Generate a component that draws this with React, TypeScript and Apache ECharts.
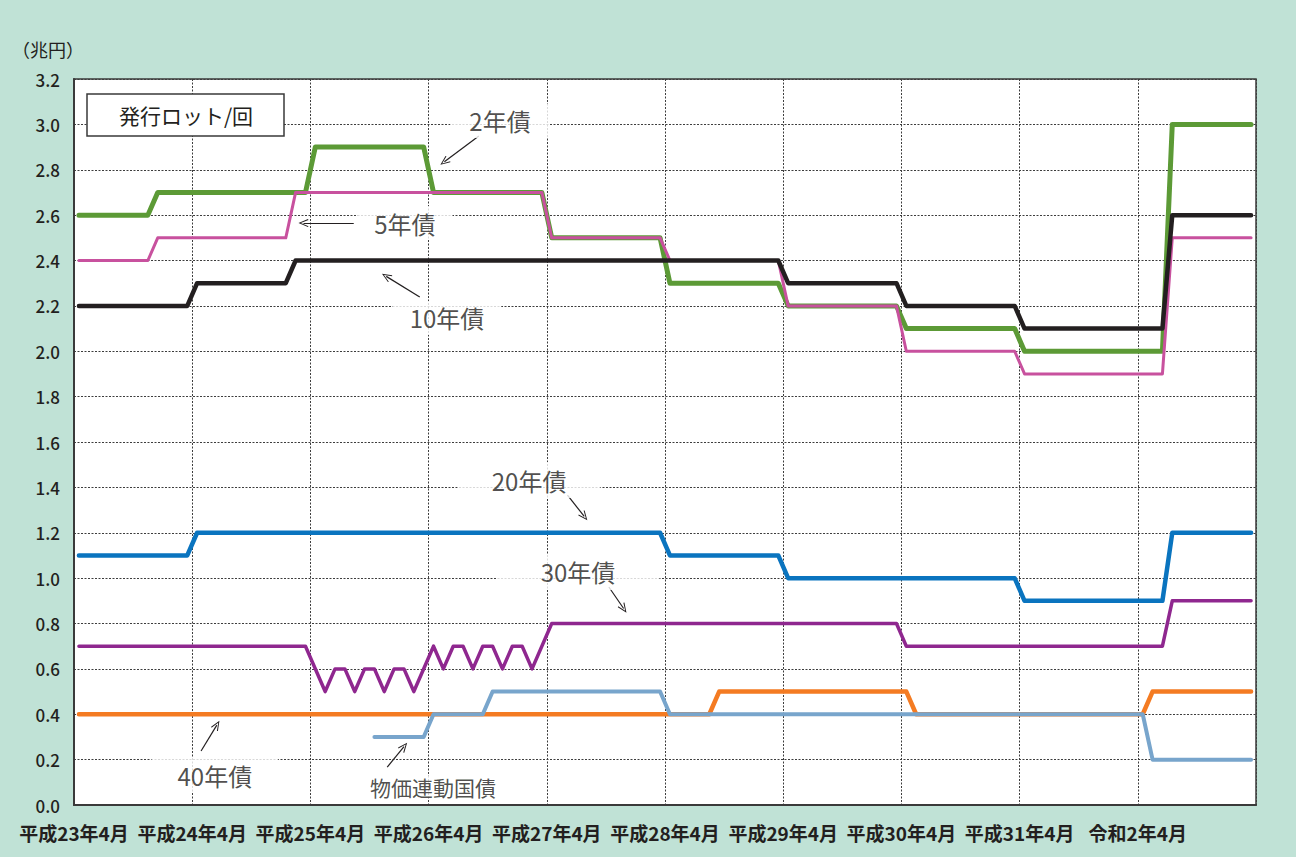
import React, { useEffect, useRef } from "react";
import * as echarts from "echarts";

// x axis: months from 平成23年4月 (index 0); each monthly point sits at month + 0.5
const xTickLabels = [
  "平成23年4月", "平成24年4月", "平成25年4月", "平成26年4月", "平成27年4月",
  "平成28年4月", "平成29年4月", "平成30年4月", "平成31年4月", "令和2年4月",
];
const monthsShown = 120;
const yMax = 3.2;
const yStep = 0.2;

// [month index, 兆円] — points where each issuance lot changes
const twoYear: [number, number][] = [
  [0, 2.6], [7, 2.6], [8, 2.7], [23, 2.7], [24, 2.9], [35, 2.9], [36, 2.7], [47, 2.7],
  [48, 2.5], [59, 2.5], [60, 2.3], [71, 2.3], [72, 2.2], [83, 2.2], [84, 2.1], [95, 2.1],
  [96, 2.0], [110, 2.0], [111, 3.0], [119, 3.0],
];
const fiveYear: [number, number][] = [
  [0, 2.4], [7, 2.4], [8, 2.5], [21, 2.5], [22, 2.7], [47, 2.7], [48, 2.5], [59, 2.5],
  [60, 2.4], [71, 2.4], [72, 2.2], [83, 2.2], [84, 2.0], [95, 2.0], [96, 1.9], [110, 1.9],
  [111, 2.5], [119, 2.5],
];
const tenYear: [number, number][] = [
  [0, 2.2], [11, 2.2], [12, 2.3], [21, 2.3], [22, 2.4], [71, 2.4], [72, 2.3], [83, 2.3],
  [84, 2.2], [95, 2.2], [96, 2.1], [110, 2.1], [111, 2.6], [119, 2.6],
];
const twentyYear: [number, number][] = [
  [0, 1.1], [11, 1.1], [12, 1.2], [59, 1.2], [60, 1.1], [71, 1.1], [72, 1.0], [95, 1.0],
  [96, 0.9], [110, 0.9], [111, 1.2], [119, 1.2],
];
const thirtyYear: [number, number][] = [
  [0, 0.7], [23, 0.7], [25, 0.5], [26, 0.6], [27, 0.6], [28, 0.5], [29, 0.6], [30, 0.6],
  [31, 0.5], [32, 0.6], [33, 0.6], [34, 0.5], [36, 0.7], [37, 0.6], [38, 0.7], [39, 0.7],
  [40, 0.6], [41, 0.7], [42, 0.7], [43, 0.6], [44, 0.7], [45, 0.7], [46, 0.6], [48, 0.8],
  [83, 0.8], [84, 0.7], [110, 0.7], [111, 0.9], [119, 0.9],
];
const fortyYear: [number, number][] = [
  [0, 0.4], [64, 0.4], [65, 0.5], [84, 0.5], [85, 0.4], [108, 0.4], [109, 0.5], [119, 0.5],
];
const inflationIndexed: [number, number][] = [
  [30, 0.3], [35, 0.3], [36, 0.4], [41, 0.4], [42, 0.5], [59, 0.5], [60, 0.4], [108, 0.4],
  [109, 0.2], [119, 0.2],
];

// annotation labels and arrows (axis units)
const annotationTexts = ["2年債", "5年債", "10年債", "20年債", "30年債", "40年債", "物価連動国債"];
const annotationAt: [number, number][] = [
  [43.25, 3.015], [33.6, 2.565], [37.87, 2.147], [46.2, 1.432], [51.17, 1.027], [14.3, 0.132], [36.45, 0.079],
];
const arrowFrom: [number, number][] = [
  [41.1, 2.949], [28.4, 2.565], [35.1, 2.239], [50.1, 1.366], [54.3, 0.961], [12.9, 0.238], [31.8, 0.167],
];
const arrowTo: [number, number][] = [
  [37.6, 2.835], [23.3, 2.565], [31.7, 2.33], [51.8, 1.272], [55.8, 0.866], [14.5, 0.352], [33.5, 0.257],
];

const toPoints = (arr: [number, number][]) => arr.map(([m, v]) => [m + 0.5, v]);

const INK = "#231f20";
const CJK = "'Noto Sans CJK JP', 'Noto Sans', sans-serif";
const chevron = "path://M5,0 L10,10 L8.9,10.6 L5,2.4 L1.1,10.6 L0,10 Z";

export default function App() {
  const ref = useRef<HTMLDivElement>(null);

  useEffect(() => {
    if (!ref.current) return;
    const chart = echarts.init(ref.current, undefined, { renderer: "svg" });

    const lineSeries = (name: string, data: [number, number][], color: string, width: number) => ({
      name,
      type: "line",
      data: toPoints(data),
      showSymbol: false,
      symbol: "none",
      smooth: false,
      lineStyle: { color, width, cap: "round", join: "round" },
      itemStyle: { color },
      silent: true,
    });

    const paddings: number[][] = [
      [5, 19], [5, 17], [5, 17], [6, 34], [6, 44], [5, 26], [1, 2],
    ];

    chart.setOption({
      animation: false,
      backgroundColor: "#c0e2d6",
      grid: {
        left: 74,
        right: 40,
        top: 79,
        bottom: 52,
        show: true,
        backgroundColor: "#ffffff",
        borderColor: "#3a3a3a",
        borderWidth: 1.5,
      },
      xAxis: {
        type: "value",
        min: 0,
        max: monthsShown,
        interval: 12,
        axisLine: { show: true, lineStyle: { color: "#3a3a3a", width: 2 } },
        axisTick: { show: false },
        splitLine: { show: true, lineStyle: { color: "#3d3d3d", width: 1, type: [2, 1.5] } },
        axisLabel: {
          margin: 18,
          fontSize: 19,
          fontWeight: "bold",
          color: INK,
          fontFamily: CJK,
          formatter: (v: number) => xTickLabels[Math.round(v / 12)] ?? "",
        },
      },
      yAxis: {
        type: "value",
        min: 0,
        max: yMax,
        interval: yStep,
        axisLine: { show: true, lineStyle: { color: "#3a3a3a", width: 2 } },
        axisTick: { show: false },
        splitLine: { show: true, lineStyle: { color: "#3d3d3d", width: 1, type: [2, 1.5] } },
        axisLabel: {
          margin: 14,
          fontSize: 17,
          fontWeight: 500,
          color: INK,
          fontFamily: CJK,
          formatter: (v: number) => v.toFixed(1),
        },
      },
      graphic: [
        {
          type: "text",
          left: 12,
          top: 40,
          style: { text: "（兆円）", fontSize: 18, fill: INK, fontFamily: CJK },
        },
        {
          type: "rect",
          shape: { x: 87, y: 94, width: 197, height: 42 },
          style: { fill: "#ffffff", stroke: "#3a3a3a", lineWidth: 1.5 },
          z: 10,
        },
        {
          type: "text",
          x: 186,
          y: 115,
          style: {
            text: "発行ロット/回",
            fontSize: 21,
            fill: INK,
            fontFamily: CJK,
            align: "center",
            verticalAlign: "middle",
          },
          z: 11,
        },
      ],
      series: [
        lineSeries("40年債", fortyYear, "#f47b22", 4.5),
        lineSeries("物価連動国債", inflationIndexed, "#78a5cc", 4),
        lineSeries("30年債", thirtyYear, "#8f278f", 3.5),
        lineSeries("20年債", twentyYear, "#0a74bf", 4.5),
        lineSeries("2年債", twoYear, "#5c9a36", 5),
        lineSeries("5年債", fiveYear, "#c8519e", 3),
        lineSeries("10年債", tenYear, INK, 4.5),
        {
          name: "annotations",
          type: "scatter",
          symbolSize: 0,
          silent: true,
          z: 5,
          data: annotationTexts.map((t, i) => ({
            name: t,
            value: annotationAt[i],
            label: {
              show: true,
              position: "inside",
              formatter: t,
              fontSize: i === 6 ? 21 : 24,
              color: INK,
              fontFamily: CJK,
              backgroundColor: "#ffffff",
              padding: paddings[i],
            },
          })),
          markLine: {
            silent: true,
            symbol: ["none", chevron],
            symbolSize: [8, 10],
            label: { show: false },
            lineStyle: { color: INK, width: 1.2, type: "solid" },
            emphasis: { disabled: true },
            data: arrowFrom.map((f, i) => [{ coord: f }, { coord: arrowTo[i] }]),
          },
        },
      ],
    });

    return () => chart.dispose();
  }, []);

  return (
    <div
      ref={ref}
      style={{ position: "fixed", left: 0, top: 0, width: 1296, height: 857 }}
    />
  );
}
